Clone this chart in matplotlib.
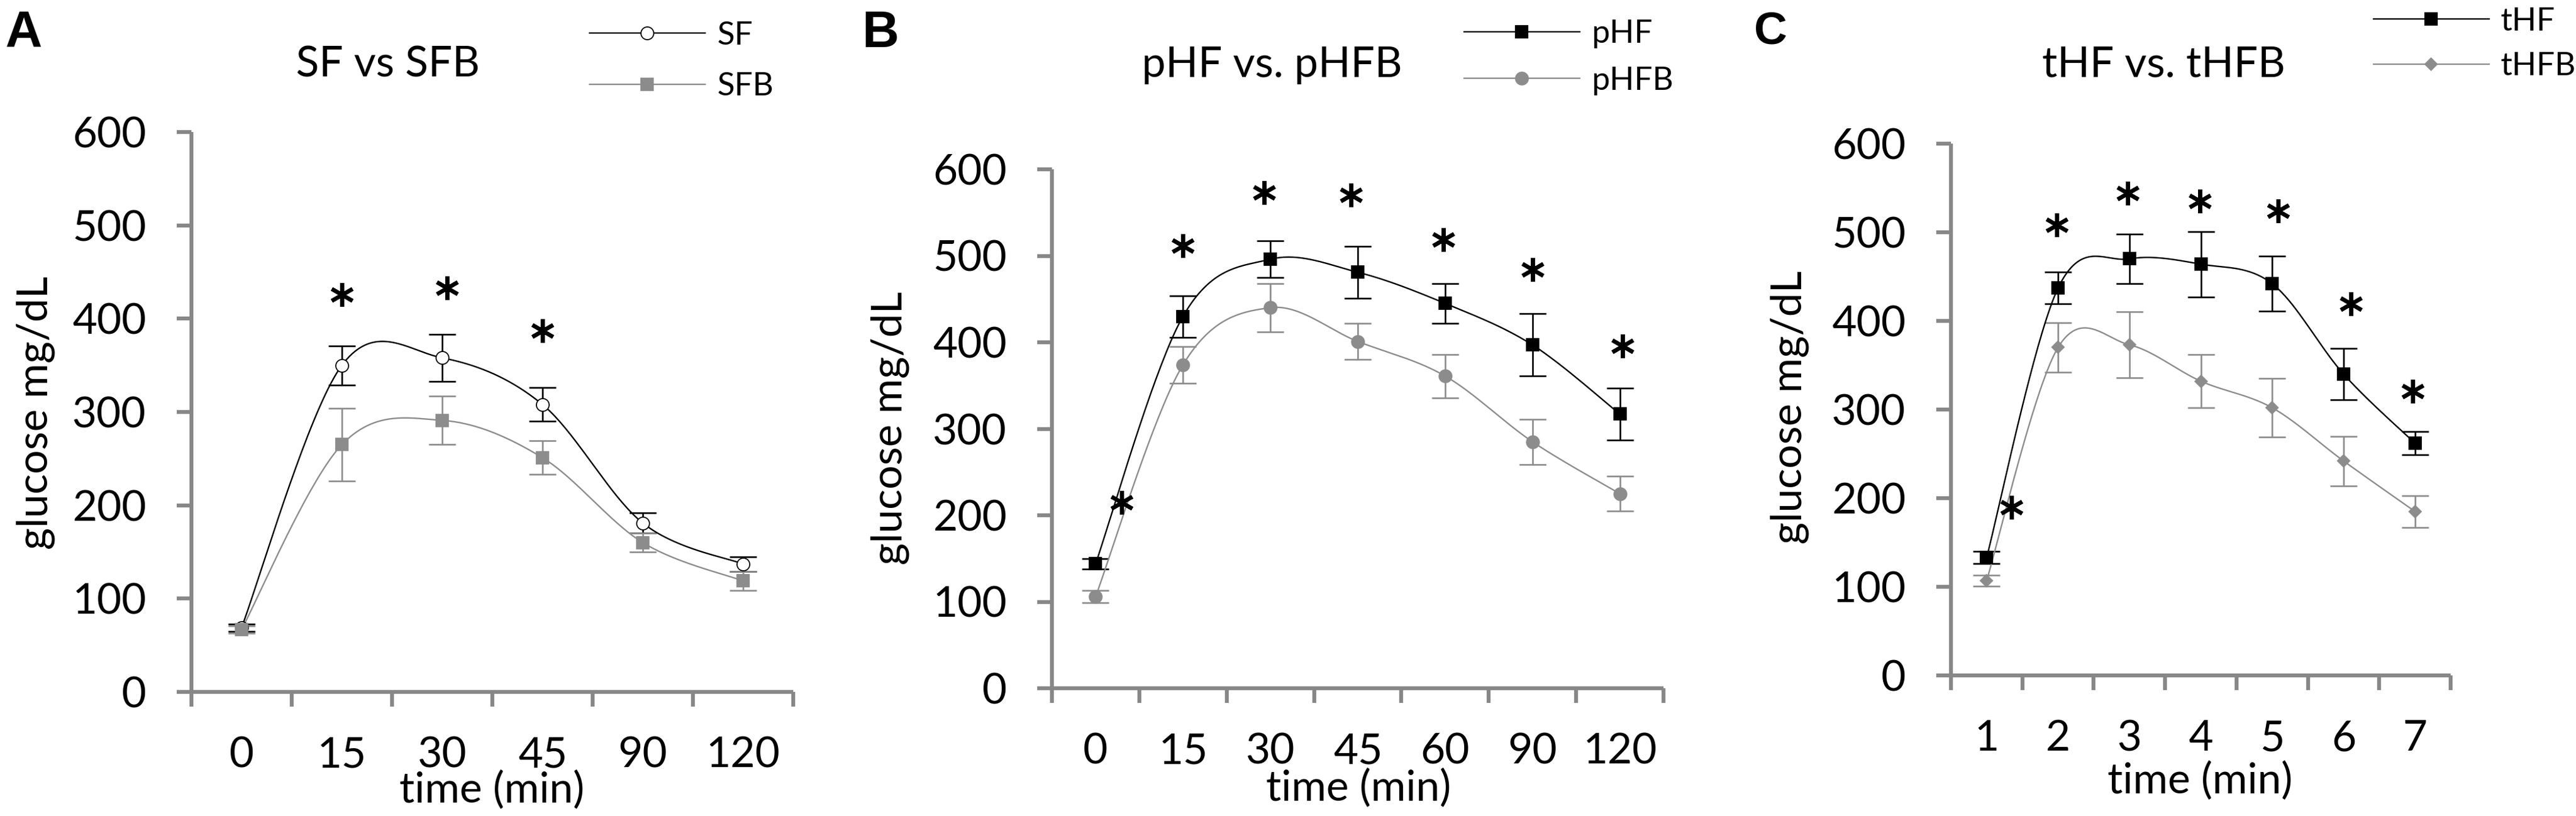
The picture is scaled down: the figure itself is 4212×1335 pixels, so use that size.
import numpy as np
import matplotlib
matplotlib.use("Agg")
import matplotlib.pyplot as plt
from matplotlib.lines import Line2D

plt.rcParams['font.family'] = ['Lato', 'DejaVu Sans']

# ── Data (glucose mg/dL, mean and SEM) ───────────────────────────────────────
a_cats = ["0", "15", "30", "45", "90", "120"]
sf_mean = [69, 350, 358, 308, 181, 137]
sf_err = [4, 21, 25, 18, 11, 8]
sfb_mean = [67, 265, 291, 251, 160, 119]
sfb_err = [4, 39, 26, 18, 10, 10]
a_star_x = [1.0, 2.05, 3.0]
a_star_y = [426, 433, 387]

b_cats = ["0", "15", "30", "45", "60", "90", "120"]
phf_mean = [144, 430, 496, 481, 445, 397, 317]
phf_err = [6, 24, 21, 30, 23, 36, 30]
phfb_mean = [106, 374, 440, 401, 361, 285, 225]
phfb_err = [7, 21, 28, 21, 25, 26, 20]
b_star_x = [0.3, 1.0, 1.93, 2.92, 3.98, 5.0, 6.03]
b_star_y = [215, 512, 573, 570, 519, 484, 396]

c_cats = ["1", "2", "3", "4", "5", "6", "7"]
thf_mean = [133, 437, 470, 464, 442, 340, 262]
thf_err = [7, 18, 28, 37, 31, 29, 13]
thfb_mean = [107, 370, 373, 332, 302, 242, 185]
thfb_err = [6, 28, 37, 30, 33, 28, 18]
c_star_x = [0.35, 0.98, 1.98, 2.99, 4.08, 5.1, 5.97]
c_star_y = [190, 508, 544, 535, 524, 419, 321]

# ── Figure geometry (pixels) ─────────────────────────────────────────────────
W, H = 4212, 1335
GREY = "#8c8c8c"
AXGREY = "#878787"
FS = 50


def px(x, y):
    return x / W, 1 - y / H


def smooth(x, y, n=40):
    # Excel-style smoothed line (cubic Bezier / Catmull-Rom)
    p = np.column_stack([x, y]).astype(float)
    q = np.vstack([p[0], p, p[-1]])
    t = np.linspace(0, 1, n)[:, None]
    out = []
    for i in range(len(p) - 1):
        p0, p1, p2, p3 = q[i], q[i + 1], q[i + 2], q[i + 3]
        c1 = p1 + (p2 - p0) / 6
        c2 = p2 - (p3 - p1) / 6
        seg = ((1 - t) ** 3 * p1 + 3 * (1 - t) ** 2 * t * c1
               + 3 * (1 - t) * t ** 2 * c2 + t ** 3 * p2)
        out.append(seg)
    s = np.vstack(out)
    return s[:, 0], s[:, 1]


def panel(box, cats, series, stars, ylab_xy, xlab_xy):
    l, t, r, b = box
    ax = fig.add_axes([l / W, (H - b) / H, (r - l) / W, (b - t) / H])
    x = np.arange(len(cats))
    for s in series:
        ax.errorbar(x, s["y"], yerr=s["e"], fmt="none", ecolor=s["c"],
                    elinewidth=1.9, capsize=15.5, capthick=1.9, zorder=2)
        sx, sy = smooth(x, s["y"])
        ax.plot(sx, sy, color=s["c"], lw=1.7, zorder=3)
        ax.plot(x, s["y"], ls="none", marker=s["m"], ms=s["ms"],
                mfc=s["fc"], mec=s["c"], mew=1.3, zorder=4)
    ax.plot(stars[0], stars[1], ls="none", marker=(6, 2, 0), ms=28,
            mew=4.6, color="black", zorder=5)

    ax.set_xlim(-0.5, len(cats) - 0.5)
    ax.set_ylim(0, 600)
    ax.set_yticks(range(0, 601, 100))
    ax.set_xticks(x)
    ax.set_xticklabels(cats)
    ax.set_xticks(np.arange(len(cats) + 1) - 0.5, minor=True)
    ax.tick_params(axis="x", which="major", length=0, pad=52, labelsize=FS)
    ax.tick_params(axis="x", which="minor", length=17, width=4.6,
                   color=AXGREY, direction="out")
    ax.tick_params(axis="y", length=17, width=4.6, color=AXGREY,
                   pad=36, labelsize=FS, direction="out")
    for sp in ("top", "right"):
        ax.spines[sp].set_visible(False)
    for sp in ("left", "bottom"):
        ax.spines[sp].set_color(AXGREY)
        ax.spines[sp].set_linewidth(4.6)
        ax.spines[sp].set_capstyle("butt")

    ax.set_ylabel("glucose mg/dL", fontsize=FS)
    ax.set_xlabel("time (min)", fontsize=FS)
    ax.yaxis.set_label_coords((ylab_xy[0] - l) / (r - l), (b - ylab_xy[1]) / (b - t))
    ax.xaxis.set_label_coords((xlab_xy[0] - l) / (r - l), (b - xlab_xy[1]) / (b - t))
    ax.yaxis.label.set_va("center")
    ax.xaxis.label.set_va("baseline")
    return ax


def legend(series, labels, xy, spacing):
    handles = [Line2D([], [], color=s["c"], lw=1.7, marker=s["m"],
                      ms=s["ms"], mfc=s["fc"], mec=s["c"], mew=1.3)
               for s in series]
    fig.legend(handles, labels, loc="center left", bbox_to_anchor=px(*xy),
               frameon=False, fontsize=38, handlelength=3.58,
               handletextpad=0.36, labelspacing=spacing, borderpad=0,
               borderaxespad=0, numpoints=1)


fig = plt.figure(figsize=(W / 100, H / 100), dpi=100)

# ── Panel A ──────────────────────────────────────────────────────────────────
sa = [dict(y=sf_mean, e=sf_err, c="black", m="o", ms=15, fc="white"),
      dict(y=sfb_mean, e=sfb_err, c=GREY, m="s", ms=14, fc=GREY)]
panel((313, 216, 1297, 1132), a_cats, sa, (a_star_x, a_star_y),
      (58, 675), (804, 1313))
legend(sa, ["SF", "SFB"], (964, 100), 0.7)
fig.text(*px(634, 125), "SF vs SFB", fontsize=FS, ha="center", va="baseline")
fig.text(*px(9, 77), "A", fontsize=60, fontweight="bold",
         family="Liberation Sans", ha="left", va="baseline")

# ── Panel B ──────────────────────────────────────────────────────────────────
sb = [dict(y=phf_mean, e=phf_err, c="black", m="s", ms=14, fc="black"),
      dict(y=phfb_mean, e=phfb_err, c=GREY, m="o", ms=15, fc=GREY)]
panel((1720, 277, 2720, 1126), b_cats, sb, (b_star_x, b_star_y),
      (1455, 700), (2221, 1310))
legend(sb, ["pHF", "pHFB"], (2394, 94), 0.55)
fig.text(*px(2080, 126), "pHF vs. pHFB", fontsize=FS, ha="center", va="baseline")
fig.text(*px(1409, 77), "B", fontsize=60, fontweight="bold",
         family="Liberation Sans", ha="left", va="baseline")

# ── Panel C ──────────────────────────────────────────────────────────────────
sc = [dict(y=thf_mean, e=thf_err, c="black", m="s", ms=15, fc="black"),
      dict(y=thfb_mean, e=thfb_err, c=GREY, m="D", ms=10, fc=GREY)]
panel((3190, 235, 4007, 1105), c_cats, sc, (c_star_x, c_star_y),
      (2926, 666), (3597, 1298))
legend(sc, ["tHF", "tHFB"], (3881, 72), 0.5)
fig.text(*px(3538, 126), "tHF vs. tHFB", fontsize=FS, ha="center", va="baseline")
fig.text(*px(2868, 71), "C", fontsize=54, fontweight="bold",
         family="Liberation Sans", ha="left", va="baseline")

fig.savefig("out.png", dpi=100)
